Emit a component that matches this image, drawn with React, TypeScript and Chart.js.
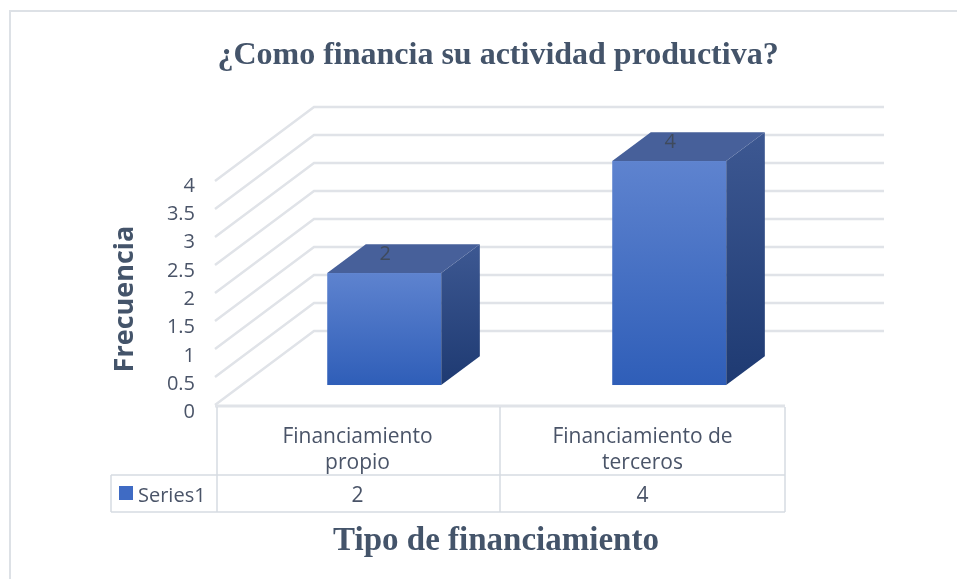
import React, { useEffect, useRef } from "react";
import { Chart, registerables } from "chart.js";

Chart.register(...registerables);

const TITLE = "¿Como financia su actividad productiva?";
const Y_TITLE = "Frecuencia";
const X_TITLE = "Tipo de financiamiento";
const SERIES_NAME = "Series1";
const categories: string[][] = [
  ["Financiamiento", "propio"],
  ["Financiamiento de", "terceros"],
];
const values: number[] = [2, 4];
const yTicks: number[] = [0, 0.5, 1, 1.5, 2, 2.5, 3, 3.5, 4];

const W = 957;
const H = 579;
const DEPTH_X = 99;
const DEPTH_Y = -74;
const BAR_D0 = 0.27;
const BAR_D1 = 0.66;

const TEXT = "#4a5468";
const TITLE_COLOR = "#44546a";
const GRID = "#e0e3e8";
const TABLE_LINE = "#d6dbe2";

const excel3d = {
  id: "excel3d",
  beforeDatasetsDraw(chart: any) {
    const ctx = chart.ctx as CanvasRenderingContext2D;
    const { left, right } = chart.chartArea;
    const y = chart.scales.y;
    ctx.save();
    // outer frame
    ctx.strokeStyle = "#dde1e6";
    ctx.lineWidth = 2;
    ctx.beginPath();
    ctx.moveTo(10, H);
    ctx.lineTo(10, 11);
    ctx.lineTo(W, 11);
    ctx.stroke();

    // walls gridlines
    ctx.strokeStyle = GRID;
    ctx.lineWidth = 2.5;
    for (const v of yTicks) {
      const py = y.getPixelForValue(v);
      ctx.beginPath();
      ctx.moveTo(left, py);
      ctx.lineTo(left + DEPTH_X, py + DEPTH_Y);
      ctx.lineTo(right + DEPTH_X, py + DEPTH_Y);
      ctx.stroke();
    }
    // floor front edge
    const p0 = y.getPixelForValue(0);
    ctx.lineWidth = 3;
    ctx.beginPath();
    ctx.moveTo(left, p0 + 1);
    ctx.lineTo(right, p0 + 1);
    ctx.stroke();

    // y tick labels
    ctx.font = "20px 'Open Sans'";
    ctx.fillStyle = TEXT;
    ctx.textAlign = "right";
    ctx.textBaseline = "middle";
    for (const v of yTicks) {
      const py = y.getPixelForValue(v);
      ctx.fillText(String(v), 195, py + 5 + (y.max - v) * 0.6);
    }

    // y title
    ctx.save();
    ctx.translate(125, 299);
    ctx.rotate(-Math.PI / 2);
    ctx.font = "bold 27px 'Open Sans'";
    ctx.fillStyle = TITLE_COLOR;
    ctx.textAlign = "center";
    ctx.textBaseline = "middle";
    ctx.fillText(Y_TITLE, 0, 0);
    ctx.restore();

    // titles
    ctx.font = "bold 32px 'Liberation Serif'";
    ctx.fillStyle = TITLE_COLOR;
    ctx.textAlign = "center";
    ctx.textBaseline = "middle";
    ctx.fillText(TITLE, 498, 56);
    ctx.font = "bold 33px 'Liberation Serif'";
    ctx.fillText(X_TITLE, 496, 541);
    ctx.restore();
  },
  afterDatasetsDraw(chart: any) {
    const ctx = chart.ctx as CanvasRenderingContext2D;
    const { left, right } = chart.chartArea;
    const xs = chart.scales.x;
    const meta = chart.getDatasetMeta(0);
    const ox = DEPTH_X * BAR_D0;
    const oy = DEPTH_Y * BAR_D0;
    const dx = DEPTH_X * (BAR_D1 - BAR_D0);
    const dy = DEPTH_Y * (BAR_D1 - BAR_D0);
    ctx.save();
    meta.data.forEach((el: any, i: number) => {
      const x0 = el.x - el.width / 2 + ox;
      const x1 = x0 + el.width;
      const yt = el.y + oy;
      const yb = el.base + oy;
      // front
      const gf = ctx.createLinearGradient(0, yt, 0, yb);
      gf.addColorStop(0, "#5e83cf");
      gf.addColorStop(1, "#2f5eb8");
      ctx.fillStyle = gf;
      ctx.fillRect(x0, yt, x1 - x0, yb - yt);
      // side
      const gs = ctx.createLinearGradient(0, yt + dy, 0, yb);
      gs.addColorStop(0, "#3d5892");
      gs.addColorStop(1, "#1e3a72");
      ctx.fillStyle = gs;
      ctx.beginPath();
      ctx.moveTo(x1, yt);
      ctx.lineTo(x1 + dx, yt + dy);
      ctx.lineTo(x1 + dx, yb + dy);
      ctx.lineTo(x1, yb);
      ctx.closePath();
      ctx.fill();
      // top
      ctx.fillStyle = "#47609a";
      ctx.beginPath();
      ctx.moveTo(x0, yt);
      ctx.lineTo(x0 + dx, yt + dy);
      ctx.lineTo(x1 + dx, yt + dy);
      ctx.lineTo(x1, yt);
      ctx.closePath();
      ctx.fill();
      // data label
      ctx.font = "20px 'Open Sans'";
      ctx.fillStyle = "#3f4a5c";
      ctx.textAlign = "center";
      ctx.textBaseline = "middle";
      ctx.fillText(String(values[i]), (x0 + x1) / 2 + 1, yt - 19);
    });

    // data table
    const n = categories.length;
    const cw = (right - left) / n;
    ctx.strokeStyle = TABLE_LINE;
    ctx.lineWidth = 1.5;
    const tTop = 407, tMid = 475, tBot = 512, lblLeft = 111;
    ctx.beginPath();
    for (let i = 0; i <= n; i++) {
      const vx = left + i * cw + (i === 0 ? 2 : 0);
      ctx.moveTo(vx, tTop);
      ctx.lineTo(vx, tBot);
    }
    ctx.moveTo(lblLeft, tMid);
    ctx.lineTo(right, tMid);
    ctx.moveTo(lblLeft, tBot);
    ctx.lineTo(right, tBot);
    ctx.moveTo(lblLeft, tMid);
    ctx.lineTo(lblLeft, tBot);
    ctx.stroke();

    ctx.font = "21px 'Open Sans'";
    ctx.fillStyle = TEXT;
    ctx.textAlign = "center";
    ctx.textBaseline = "middle";
    categories.forEach((lines, i) => {
      const cx = xs.getPixelForValue(i);
      lines.forEach((ln, j) => ctx.fillText(ln, cx, 437 + j * 26));
      ctx.fillText(String(values[i]), cx, 496);
    });
    // legend key
    ctx.fillStyle = "#3f6bc4";
    ctx.fillRect(119, 486, 14, 14);
    ctx.fillStyle = TEXT;
    ctx.textAlign = "left";
    ctx.font = "20px 'Open Sans'";
    ctx.fillText(SERIES_NAME, 138, 496);
    ctx.restore();
  },
};

export default function App() {
  const ref = useRef<HTMLCanvasElement | null>(null);
  useEffect(() => {
    if (!ref.current) return;
    const chart = new Chart(ref.current, {
      type: "bar",
      data: {
        labels: categories.map((c) => c.join(" ")),
        datasets: [
          {
            label: SERIES_NAME,
            data: values,
            backgroundColor: "rgba(0,0,0,0)",
            borderWidth: 0,
            categoryPercentage: 0.4,
            barPercentage: 1,
          },
        ],
      },
      options: {
        responsive: false,
        animation: false,
        layout: { padding: { left: 215, right: 172, top: 181, bottom: 174 } },
        plugins: {
          legend: { display: false },
          tooltip: { enabled: false },
          title: { display: false },
        },
        scales: {
          x: { type: "category", display: false, offset: true },
          y: { display: false, min: 0, max: 4 },
        },
      },
      plugins: [excel3d],
    });
    return () => chart.destroy();
  }, []);
  return (
    <div style={{ position: "absolute", left: 0, top: 0, width: W, height: H, background: "#fff" }}>
      <canvas ref={ref} width={W} height={H} style={{ display: "block" }} />
    </div>
  );
}
